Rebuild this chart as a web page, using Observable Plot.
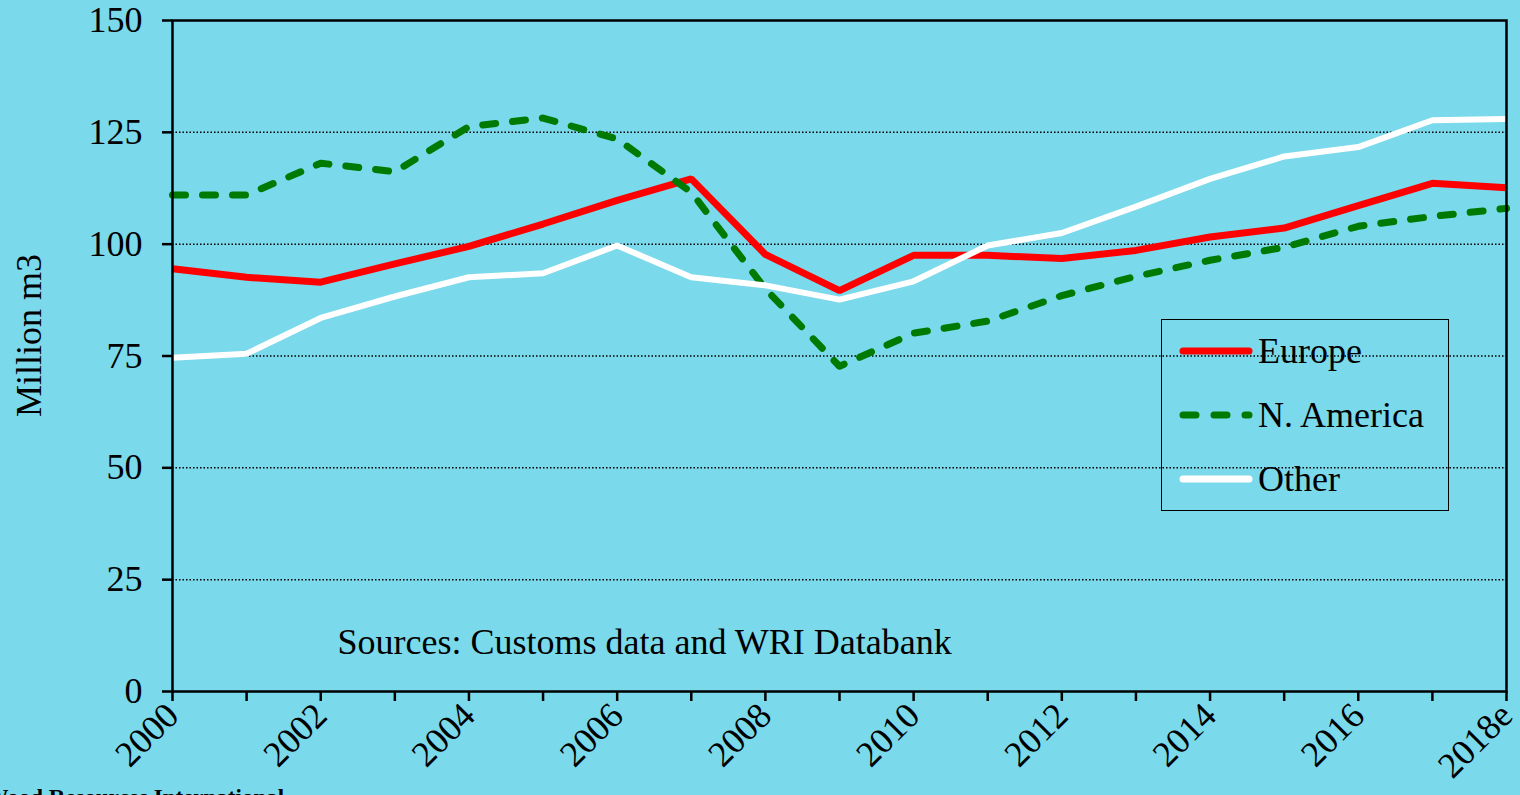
<!DOCTYPE html>
<html>
<head>
<meta charset="utf-8">
<script src="https://cdn.jsdelivr.net/npm/d3@7"></script>
<script src="https://cdn.jsdelivr.net/npm/@observablehq/plot@0.6"></script>
<style>
  html, body { margin: 0; padding: 0; background: #7ad9eb; overflow: hidden; }
  #wrap { position: relative; width: 1520px; height: 795px; }
  #legend { position: absolute; left: 1161px; top: 319px; width: 286px; height: 190px;
    border: 1.5px solid #000; font-family: "Liberation Serif", serif; font-size: 36px; color: #000; }
  .row { position: absolute; left: 0; height: 40px; display: flex; align-items: center; }
  .row svg { margin-left: 17px; margin-right: 5px; }
</style>
</head>
<body>
<div id="wrap"><div id="chart"></div><div id="legend"></div></div>
<script>
const years = [2000, 2001, 2002, 2003, 2004, 2005, 2006, 2007, 2008, 2009, 2010, 2011, 2012, 2013, 2014, 2015, 2016, 2017, 2018];
const europe = [94.5, 92.6, 91.5, 95.6, 99.5, 104.5, 109.8, 114.6, 97.7, 89.6, 97.5, 97.5, 96.8, 98.6, 101.6, 103.6, 108.6, 113.6, 112.6];
const nAmerica = [111.0, 111.0, 118.1, 116.2, 126.3, 128.2, 123.5, 111.6, 90.0, 72.7, 80.1, 82.8, 88.5, 92.8, 96.4, 99.3, 104.0, 106.2, 108.0];
const other = [74.6, 75.5, 83.5, 88.3, 92.6, 93.5, 99.7, 92.6, 90.8, 87.6, 91.7, 99.7, 102.5, 108.4, 114.6, 119.6, 121.7, 127.7, 128.0];
const seriesNames = ["Europe", "N. America", "Other"];
const seriesColors = ["#ff0000", "#007a00", "#ffffff"];
const yTicks = [0, 25, 50, 75, 100, 125, 150];
const gridValues = [25, 50, 75, 100, 125];
const yLabel = "Million m3";
const sourceNote = "Sources: Customs data and WRI Databank";
const footer = "Wood Resources International";
const xTickLabel = y => y === 2018 ? "2018e" : (y % 2 === 0 ? String(y) : "");

const toRows = vals => years.map((y, i) => ({year: y, value: vals[i]}));
const serif = "Liberation Serif, Times New Roman, serif";

const chart = Plot.plot({
  width: 1520,
  height: 795,
  marginLeft: 172,
  marginRight: 14,
  marginTop: 20,
  marginBottom: 104,
  style: {background: "#7ad9eb", fontFamily: serif, fontSize: "36px", color: "#000", overflow: "visible"},
  x: {domain: [2000, 2018]},
  y: {domain: [0, 150]},
  marks: [
    Plot.ruleY(gridValues, {stroke: "#000", strokeWidth: 1.5, strokeDasharray: "1.5,2"}),
    Plot.line(toRows(europe), {x: "year", y: "value", stroke: seriesColors[0], strokeWidth: 7, strokeLinejoin: "miter", strokeLinecap: "butt"}),
    Plot.line(toRows(nAmerica), {x: "year", y: "value", stroke: seriesColors[1], strokeWidth: 7, strokeDasharray: "13,17", strokeLinecap: "round", strokeLinejoin: "round"}),
    Plot.line(toRows(other), {x: "year", y: "value", stroke: seriesColors[2], strokeWidth: 6, strokeLinejoin: "miter", strokeLinecap: "butt"}),
    Plot.frame({stroke: "#000", strokeWidth: 2.5}),
    Plot.axisY({ticks: yTicks, tickSize: 10, tickPadding: 20, tickFormat: d => String(d), fontSize: 36, label: null, strokeWidth: 2.5}),
    Plot.axisX({ticks: years, tickSize: 10, tickPadding: 8, tickFormat: xTickLabel, tickRotate: -45, fontSize: 36, label: null, strokeWidth: 2.5}),
    Plot.text([yLabel], {text: d => d, frameAnchor: "left", rotate: -90, dx: -143, dy: 61, fontSize: 36, fill: "#000"}),
    Plot.text([sourceNote], {text: d => d, frameAnchor: "bottom-left", textAnchor: "start", dx: 165, dy: -38, fontSize: 36, fill: "#000"}),
    Plot.text([footer], {text: d => d, frameAnchor: "bottom-left", textAnchor: "start", lineAnchor: "top", dx: -187, dy: 97, fontSize: 23, fontWeight: "bold", fill: "#000"})
  ]
});
document.getElementById("chart").appendChild(chart);

// legend
const legend = document.getElementById("legend");
const rowTops = [11, 75, 139];
seriesNames.forEach((name, i) => {
  const row = document.createElement("div");
  row.className = "row";
  row.style.top = rowTops[i] + "px";
  const ns = "http://www.w3.org/2000/svg";
  const s = document.createElementNS(ns, "svg");
  s.setAttribute("width", 74); s.setAttribute("height", 12);
  const l = document.createElementNS(ns, "line");
  l.setAttribute("x1", 4); l.setAttribute("x2", 70); l.setAttribute("y1", 6); l.setAttribute("y2", 6);
  l.setAttribute("stroke", seriesColors[i]);
  l.setAttribute("stroke-width", 7);
  l.setAttribute("stroke-linecap", "round");
  if (i === 1) l.setAttribute("stroke-dasharray", "13,18");
  s.appendChild(l);
  row.appendChild(s);
  const t = document.createElement("span");
  t.textContent = name;
  row.appendChild(t);
  legend.appendChild(row);
});
</script>
</body>
</html>
